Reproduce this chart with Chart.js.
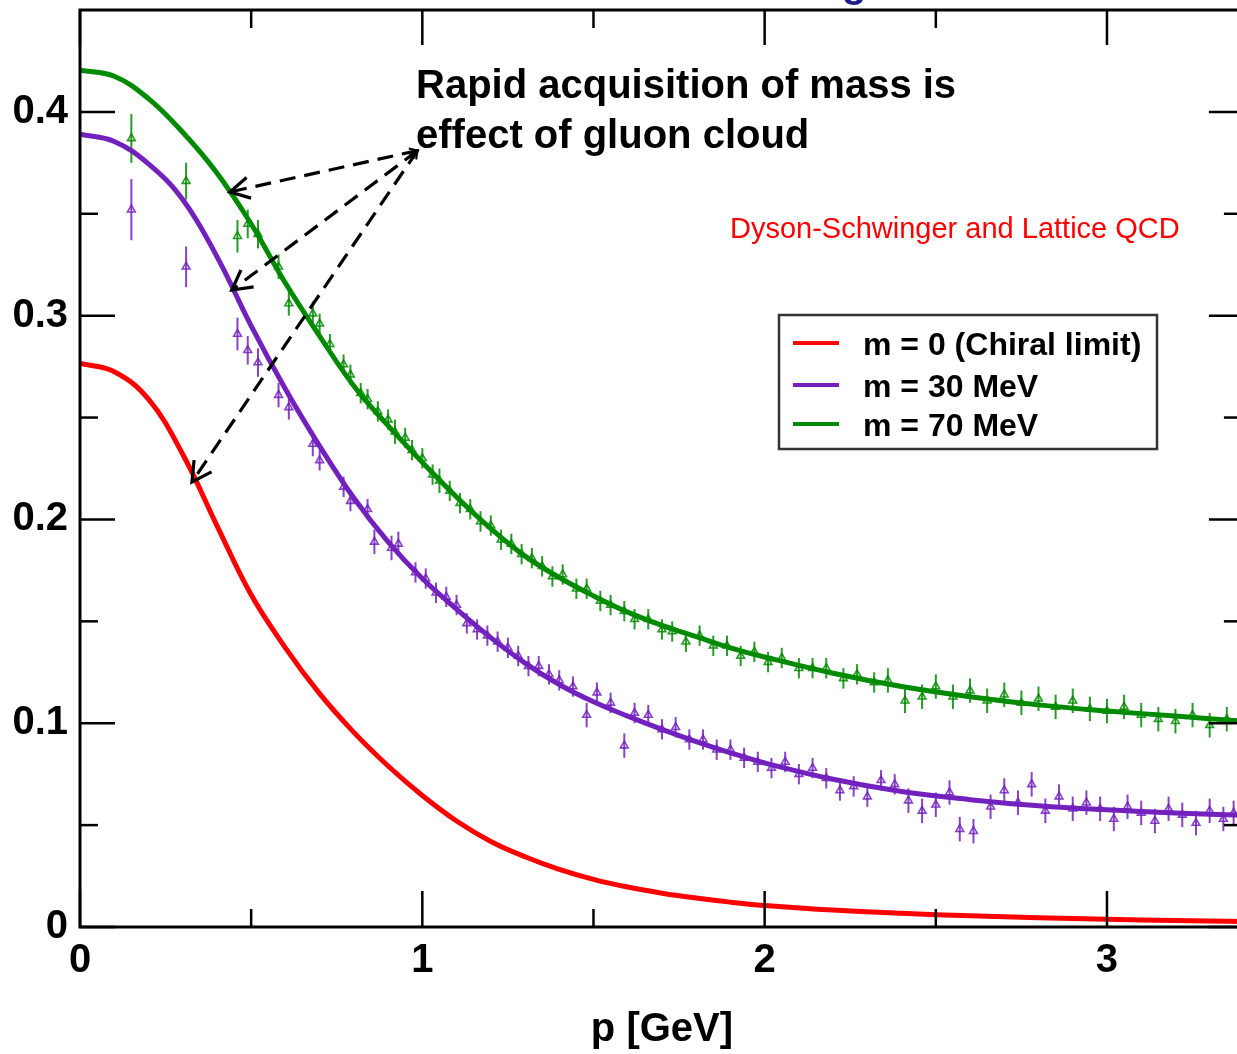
<!DOCTYPE html>
<html>
<head>
<meta charset="utf-8">
<title>Quark mass function</title>
<script src="https://cdn.jsdelivr.net/npm/chart.js@4.4.1/dist/chart.umd.min.js"></script>
<style>
  html, body { margin: 0; padding: 0; background: #fff; overflow: hidden; }
  #wrap { width: 1237px; height: 1054px; overflow: hidden; }
  canvas { display: block; }
</style>
</head>
<body>
<div id="wrap"><canvas id="massChart" width="1250" height="1054"></canvas></div>
<script>
// Curves: M(p)
const pGrid = [0, 0.1, 0.2, 0.3, 0.4, 0.5, 0.6, 0.7, 0.8, 0.9, 1.0, 1.1, 1.2, 1.3, 1.4, 1.5, 1.6, 1.7, 1.8, 1.9, 2.0, 2.2, 2.4, 2.6, 2.8, 3.0, 3.2, 3.4];
const massChiral = [0.2765, 0.2725, 0.2590, 0.2320, 0.1970, 0.1630, 0.1370, 0.1145, 0.0955, 0.0790, 0.0645, 0.0520, 0.0420, 0.0345, 0.0283, 0.0234, 0.0196, 0.0166, 0.0142, 0.0122, 0.0106, 0.0083, 0.0067, 0.0055, 0.0046, 0.0038, 0.0032, 0.0027];
const mass30 = [0.389, 0.3855, 0.3745, 0.357, 0.329, 0.295, 0.264, 0.236, 0.2105, 0.189, 0.171, 0.156, 0.142, 0.1295, 0.119, 0.1105, 0.1035, 0.097, 0.091, 0.0855, 0.0805, 0.0725, 0.0665, 0.0625, 0.0595, 0.0575, 0.056, 0.0548];
const mass70 = [0.4205, 0.4175, 0.4065, 0.390, 0.370, 0.345, 0.316, 0.290, 0.2655, 0.246, 0.228, 0.211, 0.1955, 0.182, 0.1715, 0.1625, 0.1545, 0.148, 0.1425, 0.137, 0.1325, 0.1245, 0.118, 0.113, 0.109, 0.106, 0.1035, 0.101];

// Lattice points (triangles with error bars)
const lat70P = [0.15, 0.31, 0.46, 0.49, 0.52, 0.58, 0.61, 0.68, 0.70, 0.73, 0.77, 0.79, 0.82, 0.84, 0.87, 0.90, 0.92, 0.95, 0.97, 1.00, 1.03, 1.05, 1.08, 1.11, 1.14, 1.17, 1.20, 1.23, 1.26, 1.29, 1.32, 1.35, 1.38, 1.41, 1.45, 1.48, 1.52, 1.55, 1.59, 1.62, 1.66, 1.70, 1.73, 1.77, 1.81, 1.85, 1.89, 1.93, 1.97, 2.01, 2.05, 2.10, 2.14, 2.18, 2.23, 2.27, 2.32, 2.36, 2.41, 2.46, 2.50, 2.55, 2.60, 2.65, 2.70, 2.75, 2.80, 2.85, 2.90, 2.95, 3.00, 3.05, 3.10, 3.15, 3.20, 3.25, 3.30, 3.35];
const lat70M = [0.387, 0.366, 0.339, 0.345, 0.340, 0.324, 0.306, 0.301, 0.296, 0.286, 0.276, 0.271, 0.262, 0.259, 0.253, 0.249, 0.243, 0.240, 0.234, 0.230, 0.222, 0.219, 0.214, 0.208, 0.205, 0.199, 0.197, 0.190, 0.188, 0.183, 0.181, 0.177, 0.172, 0.173, 0.166, 0.166, 0.160, 0.158, 0.155, 0.151, 0.151, 0.146, 0.145, 0.140, 0.143, 0.138, 0.138, 0.133, 0.135, 0.130, 0.132, 0.127, 0.127, 0.127, 0.122, 0.124, 0.120, 0.121, 0.111, 0.113, 0.118, 0.113, 0.116, 0.111, 0.114, 0.110, 0.112, 0.108, 0.111, 0.107, 0.106, 0.108, 0.104, 0.102, 0.101, 0.104, 0.099, 0.102];
const lat70Err = [0.012, 0.009, 0.008, 0.007, 0.007, 0.006, 0.006, 0.006, 0.005, 0.005, 0.005, 0.005, 0.005, 0.005, 0.005, 0.005, 0.006, 0.005, 0.005, 0.005, 0.005, 0.006, 0.005, 0.005, 0.005, 0.005, 0.005, 0.005, 0.005, 0.005, 0.005, 0.005, 0.005, 0.005, 0.005, 0.005, 0.005, 0.005, 0.005, 0.005, 0.005, 0.005, 0.005, 0.005, 0.005, 0.005, 0.005, 0.005, 0.005, 0.005, 0.005, 0.005, 0.005, 0.005, 0.005, 0.005, 0.005, 0.006, 0.006, 0.006, 0.006, 0.006, 0.006, 0.006, 0.006, 0.006, 0.006, 0.006, 0.006, 0.006, 0.006, 0.006, 0.006, 0.006, 0.006, 0.006, 0.006, 0.006];

const lat30P = [0.15, 0.31, 0.46, 0.49, 0.52, 0.58, 0.61, 0.68, 0.70, 0.77, 0.79, 0.84, 0.86, 0.91, 0.93, 0.98, 1.01, 1.04, 1.07, 1.10, 1.13, 1.16, 1.19, 1.22, 1.25, 1.28, 1.31, 1.34, 1.37, 1.40, 1.44, 1.48, 1.51, 1.55, 1.59, 1.62, 1.66, 1.70, 1.74, 1.78, 1.82, 1.86, 1.90, 1.94, 1.98, 2.02, 2.06, 2.10, 2.14, 2.18, 2.22, 2.26, 2.30, 2.34, 2.38, 2.42, 2.46, 2.50, 2.54, 2.57, 2.61, 2.66, 2.70, 2.74, 2.78, 2.82, 2.86, 2.90, 2.94, 2.98, 3.02, 3.06, 3.10, 3.14, 3.18, 3.22, 3.26, 3.30, 3.34, 3.37];
const lat30M = [0.352, 0.324, 0.291, 0.283, 0.277, 0.261, 0.255, 0.237, 0.229, 0.216, 0.209, 0.205, 0.189, 0.186, 0.188, 0.174, 0.171, 0.164, 0.162, 0.158, 0.149, 0.146, 0.143, 0.140, 0.137, 0.133, 0.128, 0.128, 0.124, 0.121, 0.118, 0.104, 0.115, 0.110, 0.089, 0.105, 0.104, 0.097, 0.098, 0.092, 0.092, 0.087, 0.087, 0.083, 0.081, 0.078, 0.081, 0.075, 0.078, 0.073, 0.067, 0.069, 0.064, 0.072, 0.070, 0.062, 0.057, 0.060, 0.066, 0.048, 0.047, 0.059, 0.067, 0.061, 0.070, 0.057, 0.064, 0.058, 0.061, 0.058, 0.053, 0.059, 0.056, 0.052, 0.058, 0.055, 0.051, 0.057, 0.053, 0.056];
const lat30Err = [0.015, 0.010, 0.008, 0.007, 0.007, 0.006, 0.006, 0.006, 0.005, 0.005, 0.005, 0.005, 0.006, 0.006, 0.006, 0.005, 0.005, 0.005, 0.005, 0.005, 0.005, 0.005, 0.005, 0.005, 0.005, 0.005, 0.005, 0.005, 0.005, 0.005, 0.005, 0.006, 0.005, 0.005, 0.006, 0.005, 0.005, 0.005, 0.005, 0.005, 0.005, 0.005, 0.005, 0.005, 0.005, 0.005, 0.005, 0.005, 0.005, 0.005, 0.005, 0.005, 0.005, 0.005, 0.005, 0.006, 0.006, 0.006, 0.006, 0.006, 0.006, 0.006, 0.006, 0.006, 0.006, 0.006, 0.006, 0.006, 0.006, 0.006, 0.006, 0.006, 0.006, 0.006, 0.006, 0.006, 0.006, 0.006, 0.006, 0.006];

const xTickValues = [0, 1, 2, 3];
const xMinorValues = [0.5, 1.5, 2.5];
const yTickValues = [0, 0.1, 0.2, 0.3, 0.4];
const yMinorValues = [0.05, 0.15, 0.25, 0.35];

const seriesLabels = ['m = 0 (Chiral limit)', 'm = 30 MeV', 'm = 70 MeV'];
const RED = '#ff0000', PURPLE = '#7221bc', GREEN = '#008a00';
const FONT = "'Liberation Sans', Arial, Helvetica, sans-serif";

// arrow annotation, in data units
const arrowFrom = [0.986, 0.381];
const arrowTo = [[0.438, 0.3607], [0.4435, 0.3126], [0.327, 0.2184]];

function line(ctx, x1, y1, x2, y2) {
    ctx.beginPath();
    ctx.moveTo(x1, y1);
    ctx.lineTo(x2, y2);
    ctx.stroke();
}

function arrowHead(ctx, x1, y1, x2, y2, size, spread) {
    // open head at (x2, y2) pointing away from (x1, y1)
    const ang = Math.atan2(y2 - y1, x2 - x1);
    ctx.beginPath();
    ctx.moveTo(x2 - size * Math.cos(ang - spread), y2 - size * Math.sin(ang - spread));
    ctx.lineTo(x2, y2);
    ctx.lineTo(x2 - size * Math.cos(ang + spread), y2 - size * Math.sin(ang + spread));
    ctx.stroke();
}

// vertical error bars under the lattice triangles
const errorBars = {
    id: 'errorBars',
    beforeDatasetDraw(chart, args) {
        const ds = chart.data.datasets[args.index];
        if (!ds.errors) return;
        const { ctx, chartArea: a, scales: { y } } = chart;
        ctx.save();
        ctx.beginPath();
        ctx.rect(a.left, a.top, a.right - a.left, a.bottom - a.top);
        ctx.clip();
        ctx.strokeStyle = ds.borderColor;
        ctx.lineWidth = 2;
        args.meta.data.forEach((pt, i) => {
            const v = ds.data[i].y, e = ds.errors[i];
            line(ctx, pt.x, y.getPixelForValue(v + e), pt.x, y.getPixelForValue(v - e));
        });
        ctx.restore();
    }
};

// frame, inward ticks, annotations and legend
const decorations = {
    id: 'decorations',
    afterDatasetsDraw(chart) {
        const { ctx, chartArea: a, scales: { x, y } } = chart;
        ctx.save();
        ctx.strokeStyle = '#000';
        ctx.lineWidth = 3;
        ctx.strokeRect(a.left, a.top, a.right - a.left, a.bottom - a.top);

        ctx.lineWidth = 2.5;
        xTickValues.forEach(v => {
            const px = x.getPixelForValue(v);
            line(ctx, px, a.bottom, px, a.bottom - 36);
            line(ctx, px, a.top, px, a.top + 35);
        });
        xMinorValues.forEach(v => {
            const px = x.getPixelForValue(v);
            line(ctx, px, a.bottom, px, a.bottom - 18);
            line(ctx, px, a.top, px, a.top + 18);
        });
        yTickValues.forEach(v => {
            const py = y.getPixelForValue(v);
            line(ctx, a.left, py, a.left + 35, py);
            line(ctx, a.right, py, a.right - 35, py);
        });
        yMinorValues.forEach(v => {
            const py = y.getPixelForValue(v);
            line(ctx, a.left, py, a.left + 18, py);
            line(ctx, a.right, py, a.right - 20, py);
        });

        // dashed arrows
        const fx = x.getPixelForValue(arrowFrom[0]), fy = y.getPixelForValue(arrowFrom[1]);
        ctx.lineCap = 'butt';
        arrowTo.forEach(t => {
            const tx = x.getPixelForValue(t[0]), ty = y.getPixelForValue(t[1]);
            ctx.lineWidth = 3.2;
            ctx.setLineDash([16, 9]);
            line(ctx, fx, fy, tx, ty);
            ctx.setLineDash([]);
            arrowHead(ctx, fx, fy, tx, ty, 22, 0.5);
            ctx.lineWidth = 2;
            arrowHead(ctx, tx, ty, fx, fy, 9, 0.45);
        });

        // texts
        ctx.fillStyle = '#000';
        ctx.textAlign = 'left';
        ctx.textBaseline = 'alphabetic';
        ctx.font = 'bold 40px ' + FONT;
        ctx.fillText('Rapid acquisition of mass is', 416, 98);
        ctx.fillText('effect of gluon cloud', 416, 148);

        ctx.fillStyle = '#ff0000';
        ctx.font = '29px ' + FONT;
        ctx.fillText('Dyson-Schwinger and Lattice QCD', 730, 238);

        // bit of the cut-off title
        ctx.fillStyle = '#1c1c8c';
        ctx.font = 'bold 40px ' + FONT;
        ctx.fillText('g', 842, -3);

        // legend box
        ctx.fillStyle = '#fff';
        ctx.fillRect(779, 315, 378, 134);
        ctx.strokeStyle = '#333';
        ctx.lineWidth = 2.5;
        ctx.strokeRect(779, 315, 378, 134);
        const colors = [RED, PURPLE, GREEN];
        const rows = [343, 385, 424];
        ctx.font = 'bold 32px ' + FONT;
        ctx.fillStyle = '#000';
        seriesLabels.forEach((lab, i) => {
            ctx.strokeStyle = colors[i];
            ctx.lineWidth = 4;
            line(ctx, 793, rows[i], 839, rows[i]);
            ctx.fillText(lab, 863, rows[i] + 12);
        });
        ctx.restore();
    }
};

function curve(label, values, color) {
    return {
        label: label,
        data: pGrid.map((p, i) => ({ x: p, y: values[i] })),
        borderColor: color,
        borderWidth: 5,
        pointRadius: 0,
        tension: 0.4,
        fill: false,
        order: 0
    };
}

function lattice(label, ps, ms, errs, color) {
    return {
        label: label,
        data: ps.map((p, i) => ({ x: p, y: ms[i] })),
        errors: errs,
        showLine: false,
        borderColor: color,
        backgroundColor: 'rgba(255,255,255,0)',
        pointStyle: 'triangle',
        pointRadius: 4.5,
        pointBorderWidth: 1.6,
        order: 1
    };
}

new Chart(document.getElementById('massChart'), {
    type: 'line',
    data: {
        datasets: [
            curve(seriesLabels[0], massChiral, RED),
            curve(seriesLabels[1], mass30, PURPLE),
            curve(seriesLabels[2], mass70, GREEN),
            lattice('lattice 30', lat30P, lat30M, lat30Err, 'rgba(114,33,188,0.85)'),
            lattice('lattice 70', lat70P, lat70M, lat70Err, 'rgba(0,138,0,0.85)')
        ]
    },
    options: {
        responsive: false,
        animation: false,
        devicePixelRatio: 1,
        layout: { padding: { top: 10, right: 5, left: 0, bottom: 0 } },
        plugins: {
            legend: { display: false },
            tooltip: { enabled: false }
        },
        scales: {
            x: {
                type: 'linear',
                min: 0,
                max: 3.4,
                grid: { display: false, drawTicks: false },
                border: { display: false },
                afterBuildTicks: s => { s.ticks = xTickValues.map(v => ({ value: v })); },
                afterFit: s => { s.height = 127; s.paddingLeft = 0; s.paddingRight = 0; },
                ticks: {
                    padding: 10,
                    maxRotation: 0,
                    autoSkip: false,
                    color: '#000',
                    font: { family: FONT, size: 40, weight: 'bold' },
                    callback: v => String(v)
                },
                title: {
                    display: true,
                    text: 'p [GeV]',
                    color: '#000',
                    padding: { top: 0, bottom: 0 },
                    font: { family: FONT, size: 40, weight: 'bold' }
                }
            },
            y: {
                type: 'linear',
                min: 0,
                max: 0.45,
                grid: { display: false, drawTicks: false },
                border: { display: false },
                afterBuildTicks: s => { s.ticks = yTickValues.map(v => ({ value: v })); },
                afterFit: s => { s.width = 80; s.paddingTop = 0; s.paddingBottom = 0; },
                ticks: {
                    padding: 12,
                    autoSkip: false,
                    color: '#000',
                    font: { family: FONT, size: 40, weight: 'bold' },
                    callback: v => (v === 0 ? '0' : v.toFixed(1))
                }
            }
        }
    },
    plugins: [errorBars, decorations]
});
</script>
</body>
</html>
